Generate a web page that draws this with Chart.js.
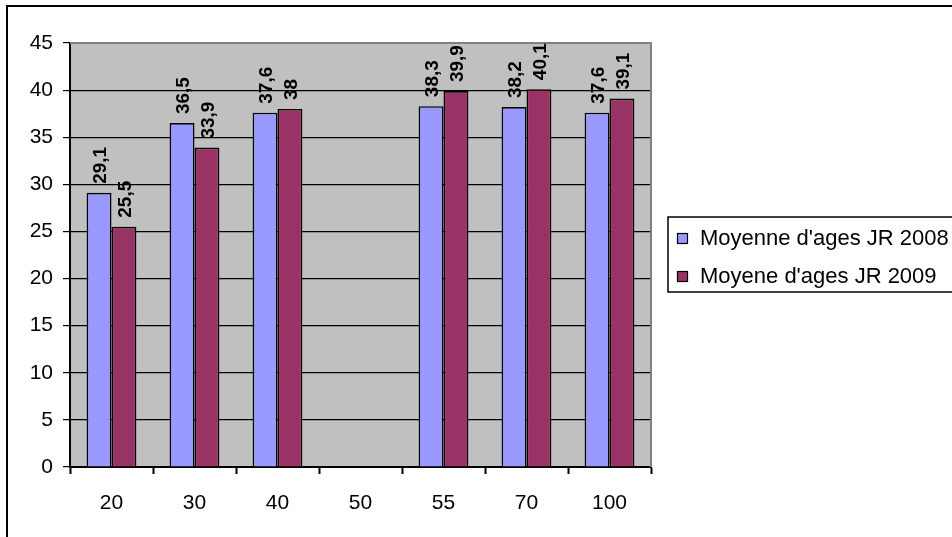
<!DOCTYPE html>
<html>
<head>
<meta charset="utf-8">
<script src="https://cdn.jsdelivr.net/npm/chart.js@4/dist/chart.umd.min.js"></script>
<style>
  html, body { margin: 0; padding: 0; background: #fff; }
  #wrap { width: 952px; height: 537px; position: relative; }
</style>
</head>
<body>
<div id="wrap"><canvas id="c" width="952" height="537"></canvas></div>
<script>
// Category labels (age thresholds) and the two yearly series
const categories = ['20', '30', '40', '50', '55', '70', '100'];
const ages2008 = [29.1, 36.5, 37.6, null, 38.3, 38.2, 37.6];
const ages2009 = [25.5, 33.9, 38, null, 39.9, 40.1, 39.1];
const seriesNames = ["Moyenne d'ages JR 2008", "Moyene d'ages JR 2009"];
const yTicks = [0, 5, 10, 15, 20, 25, 30, 35, 40, 45];

const FONT = '"Liberation Sans", Arial, sans-serif';

const fmt = v => String(v).replace('.', ',');

// Grey plot background, plot frame, outer frame, value labels and boxed legend
const decor = {
  id: 'decor',
  beforeDraw(chart) {
    const { ctx, chartArea: a } = chart;
    ctx.save();
    ctx.fillStyle = '#ffffff';
    ctx.fillRect(0, 0, chart.width, chart.height);
    ctx.fillStyle = '#c0c0c0';
    ctx.fillRect(a.left, a.top, a.right - a.left, a.bottom - a.top);
    ctx.restore();
  },
  afterDatasetsDraw(chart) {
    const { ctx, chartArea: a } = chart;
    ctx.save();
    // plot frame (top and right)
    ctx.strokeStyle = '#808080';
    ctx.lineWidth = 2;
    ctx.beginPath();
    ctx.moveTo(a.left, a.top);
    ctx.lineTo(a.right, a.top);
    ctx.lineTo(a.right, a.bottom);
    ctx.stroke();

    // rotated value labels above each bar
    ctx.fillStyle = '#000';
    ctx.font = 'bold 19px ' + FONT;
    ctx.textAlign = 'left';
    ctx.textBaseline = 'middle';
    chart.data.datasets.forEach((ds, di) => {
      const meta = chart.getDatasetMeta(di);
      meta.data.forEach((bar, i) => {
        const v = ds.data[i];
        if (v === null || v === undefined) return;
        ctx.save();
        ctx.translate(bar.x + 2, bar.y - 9);
        ctx.rotate(-Math.PI / 2);
        ctx.fillText(fmt(v), 0, 0);
        ctx.restore();
      });
    });

    // outer frame (top and left edges)
    ctx.strokeStyle = '#000';
    ctx.lineWidth = 2;
    ctx.beginPath();
    ctx.moveTo(7, chart.height + 5);
    ctx.lineTo(7, 6);
    ctx.lineTo(chart.width + 5, 6);
    ctx.stroke();

    // legend box
    const lx = 668, ly = 217, lw = 300, lh = 75;
    ctx.lineWidth = 1.5;
    ctx.strokeRect(lx, ly, lw, lh);
    ctx.font = '22px ' + FONT;
    ctx.textBaseline = 'middle';
    chart.data.datasets.forEach((ds, di) => {
      const cy = 238 + di * 38;
      ctx.fillStyle = ds.backgroundColor;
      ctx.fillRect(677, cy - 5, 10, 10);
      ctx.strokeStyle = '#000';
      ctx.lineWidth = 1.2;
      ctx.strokeRect(677.5, cy - 4.5, 10, 10);
      ctx.fillStyle = '#000';
      ctx.fillText(ds.label, 700, cy + 1);
    });
    ctx.restore();
  }
};

new Chart(document.getElementById('c'), {
  type: 'bar',
  data: {
    labels: categories,
    datasets: [
      { label: seriesNames[0], data: ages2008, backgroundColor: '#9999ff', borderColor: '#000', borderWidth: 1.6 },
      { label: seriesNames[1], data: ages2009, backgroundColor: '#993366', borderColor: '#000', borderWidth: 1.6 }
    ]
  },
  options: {
    responsive: false,
    animation: false,
    devicePixelRatio: 1,
    layout: { padding: { left: 0, top: 43, right: 952 - 651, bottom: 0 } },
    datasets: { bar: { categoryPercentage: 0.6, barPercentage: 1.0 } },
    plugins: { legend: { display: false }, tooltip: { enabled: false } },
    scales: {
      x: {
        afterFit(s) { s.height = 70; },
        grid: { offset: true, drawOnChartArea: false, drawTicks: true, tickLength: 7, tickColor: '#000', tickWidth: 2 },
        border: { color: '#000', width: 2 },
        ticks: { color: '#000', font: { family: FONT, size: 21 }, padding: 17, maxRotation: 0 }
      },
      y: {
        min: 0, max: 45,
        afterFit(s) { s.width = 70; },
        afterBuildTicks(s) { s.ticks = yTicks.map(v => ({ value: v })); },
        grid: {
          color: ctx => (ctx.tick && ctx.tick.value === 45) ? 'rgba(0,0,0,0)' : '#000',
          lineWidth: 1.2, drawTicks: true, tickLength: 7, tickColor: '#000'
        },
        border: { color: '#000', width: 2 },
        ticks: { color: '#000', font: { family: FONT, size: 21 }, padding: 10 }
      }
    }
  },
  plugins: [decor]
});
</script>
</body>
</html>
